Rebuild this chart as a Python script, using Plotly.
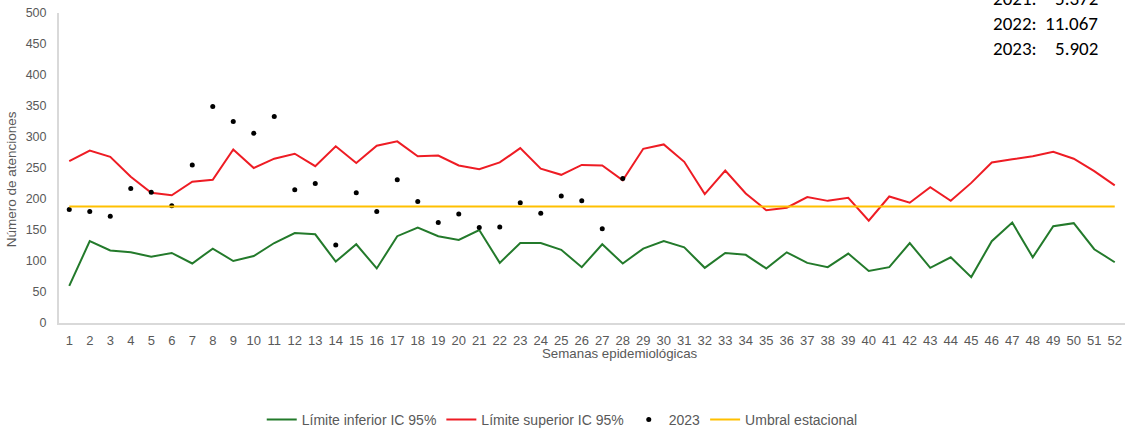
import plotly.graph_objects as go

# -----------------------------------------------------
# DATA
# -----------------------------------------------------

weeks = [str(w) for w in range(1, 53)]

limite_inferior = [
    60, 132, 117, 114, 107, 113, 96, 120, 100, 108,
    129, 145, 143, 99, 127, 88, 140, 154, 140, 134,
    150, 97, 129, 129, 118, 90, 127, 96, 120, 132,
    122, 89, 113, 110, 88, 114, 97, 90, 112, 84,
    90, 129, 89, 106, 74, 132, 162, 106, 156, 161,
    119, 98,
]

limite_superior = [
    261, 278, 268, 236, 210, 206, 228, 231, 280, 250,
    265, 273, 253, 285, 258, 286, 293, 269, 270, 254,
    248, 259, 282, 249, 239, 255, 254, 230, 281, 288,
    260, 208, 246, 209, 182, 186, 203, 197, 202, 165,
    204, 194, 219, 197, 226, 259, 264, 269, 276, 265,
    245, 222,
]

casos_2023 = [
    183, 180, 172, 217, 211, 189, 255, 349, 325, 306,
    333, 215, 225, 126, 210, 180, 231, 196, 162, 176,
    154, 155, 194, 177, 205, 197, 152, 233,
]

umbral = [188] * 52

totales_labels = ["2021:", "2022:", "2023:"]
totales_values = ["5.372", "11.067", "5.902"]

# -----------------------------------------------------
# FIGURE
# -----------------------------------------------------

GRAY = "#595959"
AXIS = "#d9d9d9"

fig = go.Figure()

fig.add_trace(go.Scatter(
    x=weeks, y=limite_inferior, mode="lines",
    name="Límite inferior IC 95%",
    line=dict(color="#237a2b", width=2),
))

fig.add_trace(go.Scatter(
    x=weeks, y=limite_superior, mode="lines",
    name="Límite superior IC 95%",
    line=dict(color="#ee1c24", width=2),
))

fig.add_trace(go.Scatter(
    x=weeks[:len(casos_2023)], y=casos_2023, mode="markers",
    name="2023",
    marker=dict(color="black", size=5),
))

fig.add_trace(go.Scatter(
    x=weeks, y=umbral, mode="lines",
    name="Umbral estacional",
    line=dict(color="#ffc000", width=2),
))

# total counts box (top right)
for i, (lab, val) in enumerate(zip(totales_labels, totales_values)):
    ypos = 1.048 - i * 0.081
    fig.add_annotation(
        x=0.874, y=ypos, xref="paper", yref="paper",
        text=lab, showarrow=False, xanchor="left", yanchor="middle",
        font=dict(family="Carlito, Lato, sans-serif", size=19, color="black"),
    )
    fig.add_annotation(
        x=0.977, y=ypos, xref="paper", yref="paper",
        text=val, showarrow=False, xanchor="right", yanchor="middle",
        font=dict(family="Carlito, Lato, sans-serif", size=19, color="black"),
    )

# axis titles
fig.add_annotation(
    x=0.5264, y=-0.0977, xref="paper", yref="paper",
    text="Semanas epidemiológicas", showarrow=False,
    xanchor="center", yanchor="middle",
    font=dict(family="Liberation Sans, Arial", size=13.3, color=GRAY),
)
fig.add_annotation(
    x=-0.0447, y=0.4645, xref="paper", yref="paper",
    text="Número de atenciones", showarrow=False, textangle=-90,
    xanchor="center", yanchor="middle",
    font=dict(family="Liberation Sans, Arial", size=13.5, color=GRAY),
)

fig.update_layout(
    width=1129,
    height=431,
    template="plotly_white",
    plot_bgcolor="white",
    paper_bgcolor="white",
    margin=dict(l=59, r=4, t=13, b=108, autoexpand=False),
    font=dict(family="Liberation Sans, Arial", size=12, color=GRAY),
    showlegend=True,
    legend=dict(
        orientation="h", xref="container", yref="container",
        x=0.498, y=0.0255, xanchor="center", yanchor="middle",
        font=dict(size=14, color=GRAY), itemwidth=30,
        bgcolor="rgba(0,0,0,0)",
    ),
    xaxis=dict(
        type="category", range=[-0.5, 51.5],
        showgrid=False, zeroline=False,
        showline=True, linecolor=AXIS, linewidth=2,
        ticks="outside", ticklen=4, tickcolor="rgba(0,0,0,0)",
        tickfont=dict(size=13, color=GRAY),
    ),
    yaxis=dict(
        range=[0, 500], dtick=50,
        showgrid=False, zeroline=False,
        showline=True, linecolor=AXIS, linewidth=2,
        ticks="outside", ticklen=8, tickcolor="rgba(0,0,0,0)",
        tickfont=dict(size=12.5, color=GRAY),
    ),
)

fig.write_html(
    "out.html",
    config={"displayModeBar": False},
    post_script="document.body.style.margin='0';",
)
